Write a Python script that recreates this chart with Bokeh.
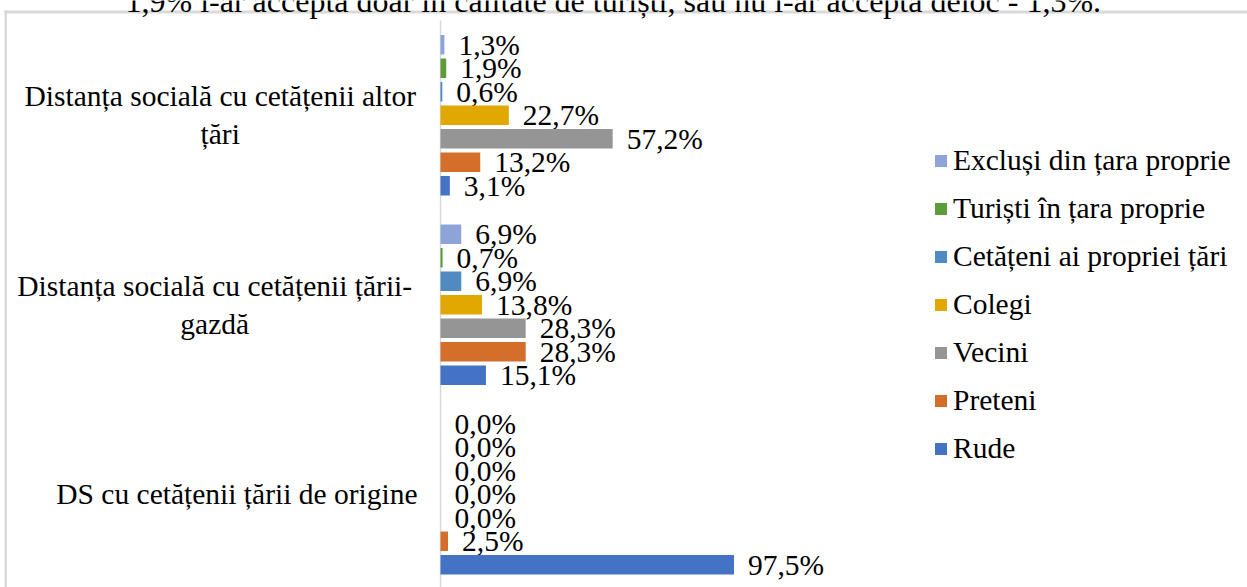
import numpy as np
from bokeh.plotting import figure
from bokeh.models import Range1d, Legend, LegendItem
from bokeh.core.properties import value
from bokeh.embed import file_html
from bokeh.resources import INLINE

# ---------------- data ----------------
categories = [
    "Distanța socială cu cetățenii altor\nțări",
    "Distanța socială cu cetățenii țării-\ngazdă",
    "DS cu cetățenii țării de origine",
]
series_names = [
    "Excluși din țara proprie",
    "Turiști în țara proprie",
    "Cetățeni ai propriei țări",
    "Colegi",
    "Vecini",
    "Preteni",
    "Rude",
]
exclusi = [1.3, 6.9, 0.0]
turisti = [1.9, 0.7, 0.0]
cetateni = [0.6, 6.9, 0.0]
colegi = [22.7, 13.8, 0.0]
vecini = [57.2, 28.3, 0.0]
preteni = [13.2, 28.3, 2.5]
rude = [3.1, 15.1, 97.5]
note_text = "1,9% l-ar accepta doar în calitate de turiști, sau nu l-ar accepta deloc - 1,3%."

series_values = [exclusi, turisti, cetateni, colegi, vecini, preteni, rude]
colors = ["#8EA4D8", "#5E9B3C", "#4F8AC1", "#E0A800", "#959595", "#D46E2B", "#4472C4"]

# ---------------- layout ----------------
W, H = 1247, 587
AXIS_X, AXIS_TOP = 440, 20          # pixel position of the category axis
PX_PER_PCT = 3.01
CAT_PX = 189.5
pitch = 23.5 / CAT_PX
bar_h = 19.5 / CAT_PX
FONT = "Liberation Serif"
FS = "29.5px"
GREY = "#D9D9D9"


def px_x(px):   # canvas pixel -> data x
    return (px - AXIS_X) / PX_PER_PCT


def px_y(py):   # canvas pixel -> data y (axis reversed: grows downward)
    return (py - AXIS_TOP) / CAT_PX


p = figure(
    width=W, height=H, output_backend="svg", toolbar_location=None,
    x_range=Range1d(px_x(0), px_x(W)),
    y_range=Range1d(px_y(H), px_y(0)),
    x_axis_location=None, y_axis_location=None,
    min_border=0,
)
p.outline_line_color = None
p.grid.visible = False
p.background_fill_color = "white"
p.border_fill_color = "white"

# chart border (top & left edges visible in the crop)
p.quad(left=px_x(4), right=px_x(W + 10), top=px_y(10), bottom=px_y(13),
       fill_color=GREY, line_color=None)
p.quad(left=px_x(4), right=px_x(6.5), top=px_y(10), bottom=px_y(H + 10),
       fill_color=GREY, line_color=None)

# category axis line
p.segment(x0=[0], y0=[0], x1=[0], y1=[px_y(H + 10)], line_color=GREY, line_width=1.5)

n = len(series_names)
items = []
for j, (name, vals, col) in enumerate(zip(series_names, series_values, colors)):
    ys = [i + 0.5 + (j - (n - 1) / 2) * pitch for i in range(len(categories))]
    r = p.hbar(y=ys, left=0, right=vals, height=bar_h, fill_color=col, line_color=None)
    p.text(x=vals, y=ys, text=[f"{v:.1f}".replace(".", ",") + "%" for v in vals],
           x_offset=14, text_baseline="middle", text_align="left",
           text_font=value(FONT), text_font_size=FS, text_color="black")
    items.append(LegendItem(label=name, renderers=[r]))

# category labels (right-aligned block, lines centred)
lab_x = [px_x(414 - max(len(s) for s in c.split("\n")) * 11.1 / 2) for c in categories]
lab_y = [i + 0.5 for i in range(len(categories))]
p.text(x=lab_x, y=lab_y, text=categories, text_align="center", text_baseline="middle",
       text_font=value(FONT), text_font_size=FS, text_color="black", text_line_height=1.2)

# cut-off note line above the chart
p.text(x=[px_x(125)], y=[px_y(0)], text=[note_text], text_align="left",
       text_baseline="alphabetic", text_font=value(FONT), text_font_size="32px",
       text_color="black")

legend = Legend(items=items, location=(933, 122), orientation="vertical",
                glyph_width=15, glyph_height=15, label_height=34, spacing=14,
                padding=0, margin=0, border_line_color=None, background_fill_alpha=0,
                label_text_font=FONT, label_text_font_size=FS, label_text_color="black",
                label_standoff=5)
p.add_layout(legend)

open("out.html", "w").write(file_html(p, INLINE))
